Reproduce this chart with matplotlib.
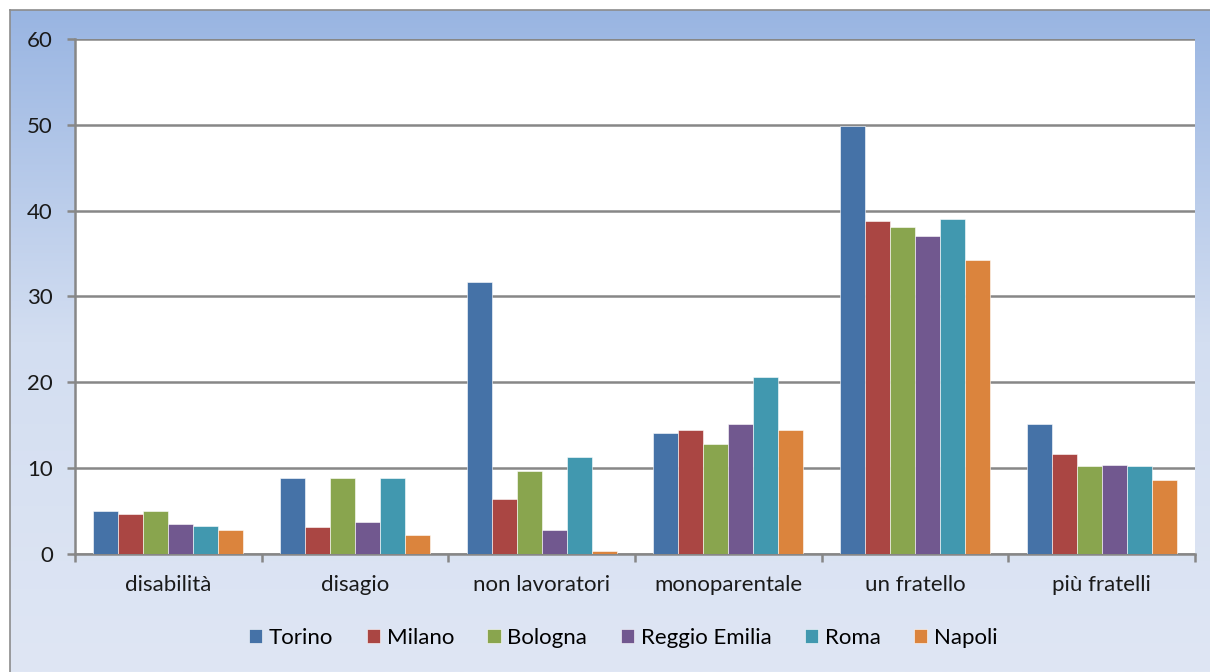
import numpy as np
import matplotlib
matplotlib.use('Agg')
from matplotlib import pyplot as plt
from matplotlib.colors import LinearSegmentedColormap

categories = ['disabilità', 'disagio', 'non lavoratori', 'monoparentale', 'un fratello', 'più fratelli']
cities = ['Torino', 'Milano', 'Bologna', 'Reggio Emilia', 'Roma', 'Napoli']
torino = [5.0, 8.8, 31.7, 14.1, 49.9, 15.2]
milano = [4.7, 3.2, 6.4, 14.5, 38.8, 11.7]
bologna = [5.0, 8.9, 9.7, 12.8, 38.1, 10.3]
reggio = [3.5, 3.7, 2.8, 15.2, 37.0, 10.4]
roma = [3.3, 8.9, 11.3, 20.6, 39.0, 10.3]
napoli = [2.8, 2.2, 0.35, 14.4, 34.3, 8.6]
series = [torino, milano, bologna, reggio, roma, napoli]
colors = ['#4572A7', '#AA4643', '#89A54E', '#71588F', '#4198AF', '#DB843D']
yticks = [0, 10, 20, 30, 40, 50, 60]

plt.rcParams['font.family'] = ['Lato', 'DejaVu Sans']
fs = 16

fig = plt.figure(figsize=(12.1, 6.72), dpi=100)
fig.patch.set_facecolor('white')

# gradient background of the chart frame
bg = fig.add_axes([10 / 1210, 0, 1 - 10 / 1210, 1 - 10 / 672], zorder=-10)
grad = LinearSegmentedColormap.from_list('bg', ['#dfe6f4', '#d3def1', '#99b5e2'])
bg.imshow(np.linspace(0, 1, 256).reshape(-1, 1), aspect='auto', cmap=grad,
          origin='lower', extent=[0, 1, 0, 1])
bg.set_axis_off()
fig.add_artist(plt.Line2D([10 / 1210, 1], [1 - 9.5 / 672] * 2, color='#8c8c8c', lw=1.2))
fig.add_artist(plt.Line2D([10 / 1210] * 2, [0, 1 - 9.5 / 672], color='#8c8c8c', lw=1.2))

ax = fig.add_axes([75 / 1210, 1 - 554 / 672, 1120 / 1210, 515 / 672])
ax.set_facecolor('white')

x = np.arange(len(categories))
w = 0.134
for i, (vals, c, name) in enumerate(zip(series, colors, cities)):
    ax.bar(x + (i - 2.5) * w, vals, w, color=c, label=name,
           edgecolor='white', linewidth=0.4, zorder=3)

ax.set_xlim(-0.5, len(categories) - 0.5)
ax.set_ylim(0, 60)
ax.set_yticks(yticks)
ax.set_yticklabels([str(v) for v in yticks], fontsize=fs, color='#1a1a1a')
ax.yaxis.grid(True, color='#878787', lw=1.8, zorder=1)
ax.set_axisbelow(True)

ax.set_xticks(np.arange(len(categories) + 1) - 0.5)
ax.set_xticklabels([])
ax.set_xticks(x, minor=True)
ax.set_xticklabels(categories, minor=True, fontsize=fs, color='#1a1a1a')
ax.tick_params(axis='x', which='minor', length=0, pad=15)
ax.tick_params(axis='x', which='major', length=6, width=1.8, color='#878787', direction='out')
ax.tick_params(axis='y', length=6, width=1.8, color='#878787', pad=10)

for side in ['top', 'right']:
    ax.spines[side].set_visible(False)
for side in ['left', 'bottom']:
    ax.spines[side].set_color('#878787')
    ax.spines[side].set_linewidth(1.8)

leg = fig.legend(loc='center', bbox_to_anchor=(0.515, 1 - 638 / 672), ncol=6,
                 frameon=False, fontsize=fs, handlelength=0.6, handleheight=0.6,
                 handletextpad=0.3, columnspacing=1.5)

fig.savefig('out.png', dpi=100)
